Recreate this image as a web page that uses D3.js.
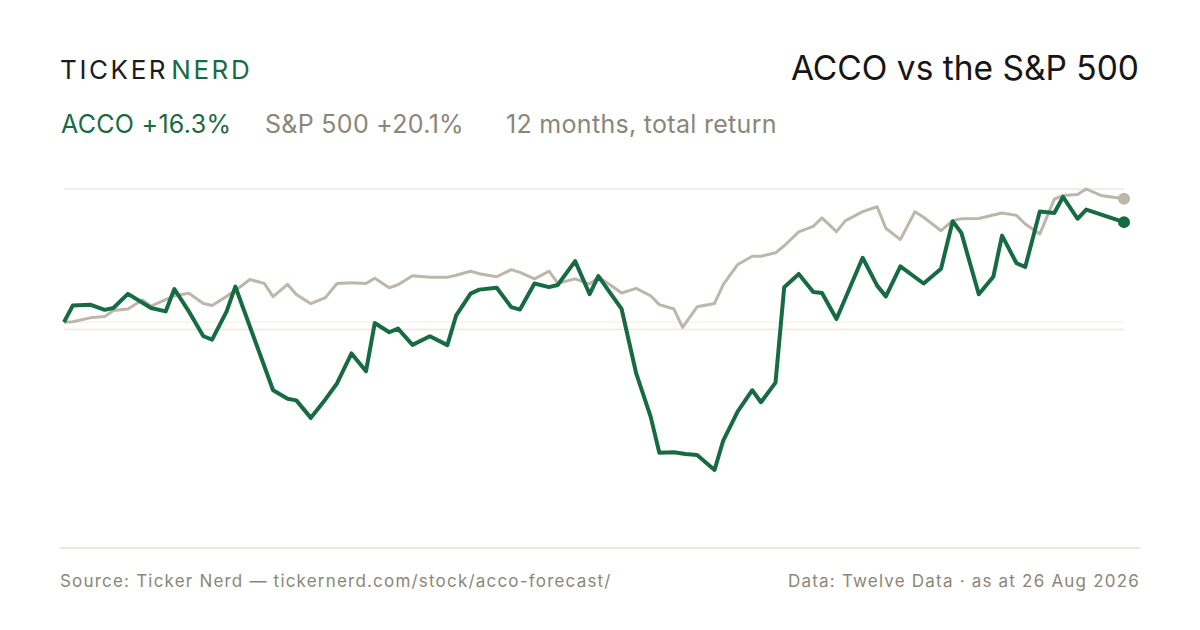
<!DOCTYPE html>
<html>
<head>
<meta charset="utf-8">
<script src="https://cdn.jsdelivr.net/npm/d3@7/dist/d3.min.js"></script>
<style>
  body { margin: 0; background: #fff; }
  svg { display: block; }
  text { font-family: Inter, "Liberation Sans", sans-serif; }
</style>
</head>
<body>
<svg id="chart" width="1200" height="630"></svg>
<script>
// 12 months of total return, % from the start date
var startDate = new Date(2025, 7, 26);
var spanDays = 365;

var accoDays = [0, 3, 9, 14, 17, 22, 30, 35, 38, 43, 48, 51, 56, 59, 72, 77, 80, 85, 90, 94,
  99, 104, 107, 112, 115, 120, 126, 132, 135, 140, 143, 149, 154, 157, 162, 167, 170, 176, 181, 184,
  188, 192, 197, 202, 205, 210, 214, 218, 224, 227, 232, 237, 240, 245, 248, 253, 258, 261, 266, 275,
  280, 283, 288, 296, 302, 306, 309, 315, 320, 323, 328, 331, 336, 341, 344, 349, 352, 365];
var accoReturns = [0, 2.7, 2.85, 2.0, 2.3, 4.6, 2.3, 1.75, 5.4, 1.75, -2.3, -2.85, 1.75, 5.8, -11.1, -12.5, -12.75, -15.6, -12.6, -10.0,
  -5.1, -8.0, -0.15, -1.65, -1.05, -3.7, -2.3, -3.75, 1.05, 4.65, 5.3, 5.6, 2.45, 2.05, 6.3, 5.7, 6.05, 9.95, 4.55, 7.5,
  4.8, 2.15, -8.3, -15.4, -21.3, -21.2, -21.5, -21.65, -24.1, -19.3, -14.55, -11.1, -13.05, -9.85, 5.7, 7.85, 4.9, 4.75, 0.5, 10.5,
  5.95, 4.2, 9.1, 6.3, 8.7, 16.45, 14.55, 4.55, 7.4, 14.1, 9.6, 9.0, 18.05, 17.8, 20.4, 16.85, 18.35, 16.3];

var spxDays = [0, 3, 9, 14, 17, 22, 27, 30, 35, 38, 43, 48, 51, 56, 59, 64, 69, 72, 77, 80,
  85, 90, 94, 99, 104, 107, 112, 115, 120, 126, 132, 135, 140, 143, 149, 154, 157, 162, 167, 170,
  176, 181, 184, 188, 192, 197, 202, 205, 210, 213, 218, 224, 227, 232, 237, 240, 245, 248, 253, 258,
  261, 266, 269, 275, 280, 283, 288, 293, 296, 302, 306, 309, 315, 320, 323, 328, 331, 336, 341, 344,
  349, 352, 357, 365];
var spxReturns = [0, 0.05, 0.7, 0.9, 1.9, 2.15, 3.6, 2.6, 3.65, 4.3, 4.7, 3.05, 2.7, 4.2, 5.15, 6.95, 6.3, 4.15, 6.15, 4.5,
  3.0, 4.0, 6.3, 6.4, 6.3, 7.15, 5.6, 6.1, 7.55, 7.3, 7.3, 7.65, 8.3, 7.9, 7.4, 8.55, 8.1, 7.05, 8.3, 6.35,
  7.05, 6.2, 7.35, 6.1, 4.75, 5.5, 4.3, 2.85, 2.15, -0.85, 2.5, 3.05, 6.1, 9.4, 10.75, 10.75, 11.3, 12.45, 14.7, 15.6,
  17.0, 14.75, 16.5, 18.0, 18.8, 15.3, 13.45, 18.0, 17.1, 14.9, 16.55, 16.85, 16.9, 17.45, 17.8, 17.4, 16.0, 14.35, 20.05, 20.65,
  20.8, 21.7, 20.65, 20.1];

var seriesNames = ["ACCO", "S&P 500"];
var periodLabel = "12 months, total return";

var green = "#176b43", taupe = "#bdb6aa", grey = "#8b8679";

var svg = d3.select("#chart");

function toPoints(days, vals) {
  return days.map(function (d, i) {
    return { date: d3.timeDay.offset(startDate, d), value: vals[i] };
  });
}
var acco = toPoints(accoDays, accoReturns);
var spx = toPoints(spxDays, spxReturns);

var x = d3.scaleTime()
  .domain([startDate, d3.timeDay.offset(startDate, spanDays)])
  .range([64, 1124]);

var y = d3.scaleLinear()
  .domain(d3.extent(accoReturns.concat(spxReturns)))
  .range([470, 189]);

// grid: top of range, middle of range, and a faint zero line
var dom = y.domain();
var grid = [dom[1], (dom[0] + dom[1]) / 2];
svg.append("g").selectAll("line").data(grid).enter().append("line")
  .attr("x1", 64).attr("x2", 1124)
  .attr("y1", function (d) { return y(d); })
  .attr("y2", function (d) { return y(d); })
  .attr("stroke", "#ebe8e1").attr("stroke-width", 1.5);
svg.append("line")
  .attr("x1", 64).attr("x2", 1124)
  .attr("y1", y(0)).attr("y2", y(0))
  .attr("stroke", "#efece6").attr("stroke-width", 1);

var line = d3.line()
  .x(function (d) { return x(d.date); })
  .y(function (d) { return y(d.value); });

svg.append("path").datum(spx)
  .attr("d", line).attr("fill", "none")
  .attr("stroke", taupe).attr("stroke-width", 3)
  .attr("stroke-linejoin", "round");
svg.append("path").datum(acco)
  .attr("d", line).attr("fill", "none")
  .attr("stroke", green).attr("stroke-width", 4)
  .attr("stroke-linejoin", "round");

var lastSpx = spx[spx.length - 1], lastAcco = acco[acco.length - 1];
svg.append("circle").attr("cx", x(lastSpx.date)).attr("cy", y(lastSpx.value))
  .attr("r", 6).attr("fill", taupe);
svg.append("circle").attr("cx", x(lastAcco.date)).attr("cy", y(lastAcco.value))
  .attr("r", 6).attr("fill", green);

// header
var brand = svg.append("text").attr("x", 60).attr("y", 79)
  .attr("font-size", 26).attr("letter-spacing", 2.6);
brand.append("tspan").attr("fill", "#1c1c1c").text("TICKER");
brand.append("tspan").attr("fill", green).attr("dx", 3).text("NERD");

svg.append("text").attr("x", 1139).attr("y", 80)
  .attr("text-anchor", "end").attr("font-size", 33.5).attr("fill", "#161616")
  .text(seriesNames[0] + " vs the " + seriesNames[1]);

function fmt(v) { return (v >= 0 ? "+" : "") + v.toFixed(1) + "%"; }
var subs = [
  { t: seriesNames[0] + " " + fmt(lastAcco.value), c: green, x: 61 },
  { t: seriesNames[1] + " " + fmt(lastSpx.value), c: grey, x: 265 },
  { t: periodLabel, c: grey, x: 506 }
];
svg.append("g").selectAll("text").data(subs).enter().append("text")
  .attr("x", function (d) { return d.x; }).attr("y", 133)
  .attr("font-size", 25).attr("letter-spacing", 0.3)
  .attr("fill", function (d) { return d.c; })
  .text(function (d) { return d.t; });

// footer
svg.append("line").attr("x1", 60).attr("x2", 1140).attr("y1", 548).attr("y2", 548)
  .attr("stroke", "#e2ded4").attr("stroke-width", 1.5);
svg.append("text").attr("x", 60).attr("y", 587).attr("font-size", 17)
  .attr("letter-spacing", 1.2).attr("fill", grey)
  .text("Source: Ticker Nerd \u2014 tickernerd.com/stock/acco-forecast/");
svg.append("text").attr("x", 1140).attr("y", 587).attr("text-anchor", "end")
  .attr("font-size", 17).attr("letter-spacing", 1.2).attr("fill", grey)
  .text("Data: Twelve Data \u00b7 as at 26 Aug 2026");
</script>
</body>
</html>
